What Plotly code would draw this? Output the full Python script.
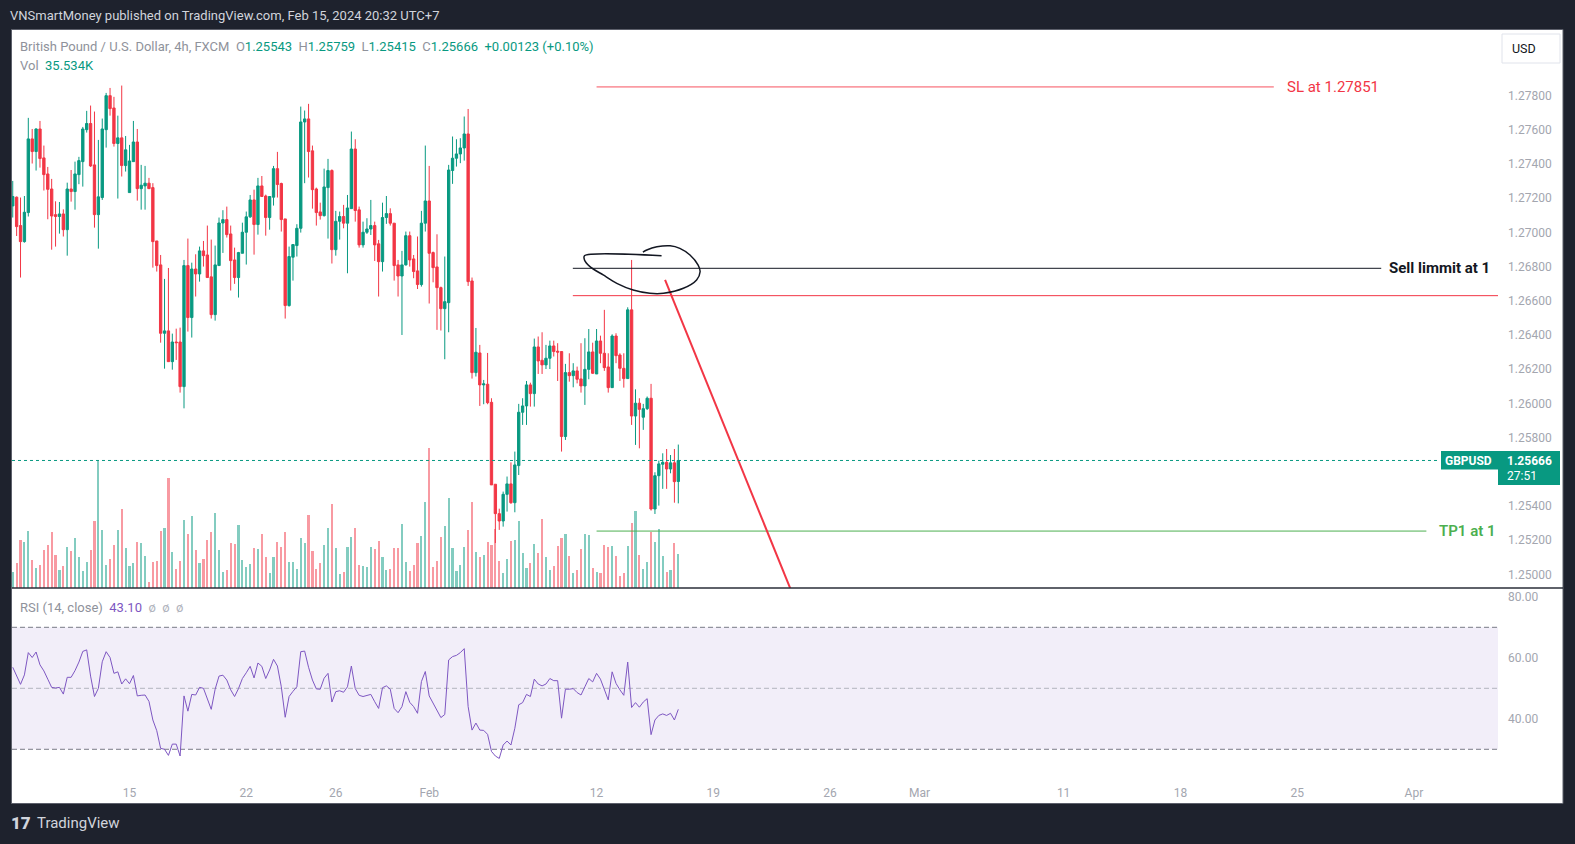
import plotly.graph_objects as go

W, H = 1575, 844
FONT = "Roboto, 'Noto Sans', sans-serif"

# ---------------- data (GBPUSD 4h, FXCM) ----------------
open_ = [1.27155, 1.27206, 1.27040, 1.26946, 1.27116, 1.27547, 1.27473, 1.27605, 1.27436, 1.27342,
         1.27254, 1.27104, 1.27093, 1.27108, 1.27016, 1.27254, 1.27239, 1.27338, 1.27414, 1.27601,
         1.27637, 1.27395, 1.27104, 1.27204, 1.27601, 1.27800, 1.27728, 1.27520, 1.27553, 1.27391,
         1.27233, 1.27414, 1.27529, 1.27256, 1.27272, 1.27288, 1.27262, 1.26950, 1.26810, 1.26410,
         1.26424, 1.26244, 1.26359, 1.26359, 1.26098, 1.26806, 1.26502, 1.26786, 1.26757, 1.26892,
         1.26868, 1.26740, 1.26519, 1.26806, 1.27055, 1.27075, 1.26991, 1.26839, 1.26736, 1.26878,
         1.27001, 1.27091, 1.27190, 1.27046, 1.27272, 1.27213, 1.27087, 1.27206, 1.27373, 1.27286,
         1.27079, 1.26572, 1.26855, 1.26923, 1.27024, 1.27646, 1.27664, 1.27477, 1.27254, 1.27120,
         1.27098, 1.27262, 1.27362, 1.26899, 1.27065, 1.27093, 1.27054, 1.27139, 1.27488, 1.27132,
         1.26927, 1.27001, 1.27020, 1.27040, 1.26933, 1.26829, 1.27087, 1.27110, 1.27054, 1.26810,
         1.26745, 1.26810, 1.26981, 1.26845, 1.26775, 1.26695, 1.27054, 1.27184, 1.26882, 1.26798,
         1.26677, 1.26554, 1.26589, 1.27362, 1.27434, 1.27459, 1.27494, 1.27576, 1.26716, 1.26180,
         1.26295, 1.26108, 1.26112, 1.26006, 1.25527, 1.25355, 1.25312, 1.25468, 1.25529, 1.25419,
         1.25636, 1.25948, 1.25985, 1.26108, 1.26057, 1.26330, 1.26252, 1.26225, 1.26264, 1.26336,
         1.26305, 1.26303, 1.25806, 1.26180, 1.26162, 1.26190, 1.26143, 1.26102, 1.26199, 1.26301,
         1.26172, 1.26365, 1.26293, 1.26213, 1.26092, 1.26394, 1.26283, 1.26205, 1.26145, 1.26547,
         1.25926, 1.26001, 1.25919, 1.25969, 1.26030, 1.25382, 1.25577, 1.25644, 1.25655, 1.25616,
         1.25652, 1.25543]

high = [1.27301, 1.27210, 1.27204, 1.27213, 1.27670, 1.27605, 1.27609, 1.27652, 1.27508, 1.27383,
        1.27313, 1.27182, 1.27178, 1.27135, 1.27291, 1.27365, 1.27414, 1.27442, 1.27617, 1.27711,
        1.27742, 1.27707, 1.27541, 1.27666, 1.27816, 1.27845, 1.27793, 1.27683, 1.27859, 1.27564,
        1.27512, 1.27652, 1.27605, 1.27395, 1.27389, 1.27319, 1.27288, 1.26950, 1.26868, 1.26728,
        1.26792, 1.26408, 1.26437, 1.26443, 1.26839, 1.26964, 1.26823, 1.26872, 1.26917, 1.26950,
        1.27040, 1.26958, 1.26923, 1.27087, 1.27130, 1.27151, 1.27040, 1.26911, 1.26886, 1.27057,
        1.27122, 1.27219, 1.27250, 1.27319, 1.27330, 1.27221, 1.27213, 1.27389, 1.27471, 1.27291,
        1.27079, 1.26917, 1.26929, 1.27048, 1.27736, 1.27713, 1.27752, 1.27508, 1.27262, 1.27174,
        1.27373, 1.27430, 1.27369, 1.27126, 1.27122, 1.27161, 1.27219, 1.27590, 1.27545, 1.27151,
        1.27063, 1.27083, 1.27190, 1.27063, 1.26956, 1.27174, 1.27213, 1.27141, 1.27054, 1.26839,
        1.26892, 1.27005, 1.27005, 1.26868, 1.26976, 1.27126, 1.27508, 1.27389, 1.26888, 1.26989,
        1.26683, 1.26859, 1.27395, 1.27561, 1.27545, 1.27551, 1.27678, 1.27722, 1.26736, 1.26441,
        1.26342, 1.26137, 1.26295, 1.26030, 1.25527, 1.25384, 1.25484, 1.25572, 1.25655, 1.25718,
        1.25997, 1.26030, 1.26131, 1.26121, 1.26379, 1.26391, 1.26416, 1.26342, 1.26367, 1.26367,
        1.26352, 1.26305, 1.26231, 1.26293, 1.26235, 1.26215, 1.26352, 1.26381, 1.26435, 1.26355,
        1.26435, 1.26396, 1.26547, 1.26293, 1.26404, 1.26410, 1.26293, 1.26293, 1.26562, 1.26839,
        1.26082, 1.26030, 1.25997, 1.26040, 1.26114, 1.25597, 1.25665, 1.25708, 1.25733, 1.25698,
        1.25733, 1.25759]

low = [1.27087, 1.26979, 1.26736, 1.26940, 1.27093, 1.27403, 1.27362, 1.27379, 1.27245, 1.27077,
       1.26899, 1.26917, 1.26993, 1.26976, 1.26864, 1.27180, 1.27133, 1.27282, 1.27268, 1.27584,
       1.27383, 1.27028, 1.26905, 1.27190, 1.27496, 1.27683, 1.27502, 1.27198, 1.27327, 1.27356,
       1.27233, 1.27414, 1.27186, 1.27133, 1.27133, 1.27256, 1.26794, 1.26771, 1.26355, 1.26203,
       1.26244, 1.26197, 1.26254, 1.26063, 1.25971, 1.26420, 1.26385, 1.26625, 1.26712, 1.26800,
       1.26736, 1.26496, 1.26484, 1.26806, 1.26880, 1.26970, 1.26660, 1.26699, 1.26619, 1.26878,
       1.26812, 1.27085, 1.26870, 1.26987, 1.27210, 1.26981, 1.27016, 1.27157, 1.27204, 1.27005,
       1.26496, 1.26566, 1.26718, 1.26859, 1.26999, 1.27288, 1.27321, 1.27139, 1.27040, 1.27075,
       1.27093, 1.26964, 1.26818, 1.26864, 1.26958, 1.27024, 1.26761, 1.27139, 1.27063, 1.26911,
       1.26911, 1.26991, 1.26985, 1.26833, 1.26625, 1.26771, 1.27050, 1.27040, 1.26718, 1.26625,
       1.26400, 1.26806, 1.26800, 1.26732, 1.26669, 1.26683, 1.27005, 1.26584, 1.26708, 1.26430,
       1.26426, 1.26258, 1.26416, 1.27284, 1.27385, 1.27405, 1.27420, 1.26687, 1.26145, 1.26157,
       1.25985, 1.25995, 1.25995, 1.25523, 1.25183, 1.25260, 1.25279, 1.25367, 1.25412, 1.25363,
       1.25581, 1.25874, 1.25874, 1.25981, 1.25981, 1.26172, 1.26172, 1.26201, 1.26201, 1.26274,
       1.26131, 1.25718, 1.25786, 1.26127, 1.26094, 1.26117, 1.26063, 1.25991, 1.26141, 1.26172,
       1.26172, 1.26235, 1.26190, 1.26063, 1.26092, 1.26235, 1.26131, 1.26092, 1.26145, 1.25874,
       1.25757, 1.25737, 1.25845, 1.25961, 1.25373, 1.25353, 1.25402, 1.25500, 1.25500, 1.25591,
       1.25419, 1.25415]

close = [1.27210, 1.27034, 1.26946, 1.27118, 1.27547, 1.27473, 1.27605, 1.27432, 1.27338, 1.27252,
         1.27096, 1.27093, 1.27108, 1.27016, 1.27254, 1.27239, 1.27342, 1.27420, 1.27605, 1.27637,
         1.27389, 1.27104, 1.27208, 1.27605, 1.27800, 1.27724, 1.27520, 1.27553, 1.27391, 1.27483,
         1.27418, 1.27529, 1.27256, 1.27276, 1.27288, 1.27256, 1.26946, 1.26806, 1.26410, 1.26424,
         1.26244, 1.26359, 1.26355, 1.26098, 1.26806, 1.26502, 1.26786, 1.26757, 1.26892, 1.26864,
         1.26736, 1.26519, 1.26810, 1.27055, 1.27075, 1.26987, 1.26835, 1.26736, 1.26882, 1.27001,
         1.27091, 1.27190, 1.27046, 1.27272, 1.27210, 1.27087, 1.27210, 1.27373, 1.27280, 1.27075,
         1.26572, 1.26859, 1.26929, 1.27024, 1.27646, 1.27664, 1.27473, 1.27250, 1.27116, 1.27098,
         1.27266, 1.27362, 1.26899, 1.27065, 1.27093, 1.27054, 1.27143, 1.27488, 1.27128, 1.26927,
         1.27001, 1.27020, 1.27040, 1.26927, 1.26829, 1.27087, 1.27110, 1.27054, 1.26806, 1.26745,
         1.26810, 1.26981, 1.26839, 1.26771, 1.26695, 1.27054, 1.27184, 1.26878, 1.26794, 1.26677,
         1.26554, 1.26595, 1.27365, 1.27434, 1.27459, 1.27494, 1.27576, 1.26712, 1.26180, 1.26299,
         1.26108, 1.26114, 1.26004, 1.25523, 1.25355, 1.25312, 1.25468, 1.25529, 1.25419, 1.25640,
         1.25948, 1.25985, 1.26108, 1.26057, 1.26330, 1.26248, 1.26225, 1.26264, 1.26336, 1.26303,
         1.26300, 1.25806, 1.26180, 1.26162, 1.26190, 1.26141, 1.26102, 1.26199, 1.26301, 1.26176,
         1.26365, 1.26293, 1.26209, 1.26092, 1.26394, 1.26279, 1.26205, 1.26145, 1.26547, 1.25926,
         1.26001, 1.25965, 1.25969, 1.26030, 1.25382, 1.25577, 1.25646, 1.25655, 1.25616, 1.25652,
         1.25542, 1.25666]

volume_k = [16.7, 26.1, 50.2, 48.1, 59.6, 29.3, 20.9, 24.0, 39.7, 44.9,
            58.5, 34.5, 18.8, 23.0, 42.9, 38.7, 52.3, 32.4, 17.8, 27.2,
            39.7, 70.0, 134.1, 60.6, 24.0, 30.3, 44.9, 60.6, 82.6, 41.8,
            23.0, 26.1, 48.1, 47.0, 33.4, 6.3, 27.2, 28.2, 59.6, 62.7,
            115.0, 37.6, 19.9, 28.2, 71.1, 56.4, 75.3, 39.7, 26.1, 30.3,
            50.2, 58.5, 78.4, 39.7, 16.7, 18.8, 47.0, 46.0, 65.8, 29.3,
            21.9, 25.1, 41.8, 40.8, 56.4, 32.4, 15.7, 32.4, 48.1, 42.9,
            58.5, 27.2, 27.2, 19.9, 52.3, 47.0, 76.3, 38.7, 19.9, 26.1,
            44.9, 62.7, 87.8, 41.8, 14.6, 16.7, 42.9, 53.3, 62.7, 24.0,
            23.0, 21.9, 42.9, 40.8, 49.1, 32.4, 18.8, 19.9, 41.8, 41.8,
            66.9, 27.2, 17.8, 24.0, 47.0, 54.4, 89.9, 146.3, 21.9, 28.2,
            53.3, 64.8, 94.1, 41.8, 17.8, 24.0, 42.9, 60.6, 89.9, 37.6,
            32.4, 34.5, 48.1, 44.9, 61.7, 28.2, 15.7, 30.3, 49.1, 50.2,
            70.0, 36.6, 20.9, 26.1, 46.0, 36.6, 72.1, 32.4, 18.8, 23.0,
            43.9, 52.3, 56.4, 33.4, 15.7, 18.8, 40.8, 56.4, 55.4, 20.9,
            16.7, 15.7, 44.9, 42.9, 43.9, 33.4, 12.5, 15.7, 43.9, 67.9,
            80.5, 34.5, 19.9, 27.2, 58.5, 48.1, 61.7, 33.4, 16.7, 18.8,
            47.0, 35.534]

rsi = [56.9, 54.0, 51.3, 54.4, 61.7, 60.1, 61.9, 57.7, 55.7, 53.0,
       50.3, 50.1, 50.3, 48.1, 53.6, 53.6, 55.8, 58.6, 62.1, 62.6,
       54.0, 47.3, 50.0, 58.7, 62.0, 60.1, 54.9, 55.4, 51.4, 53.1,
       51.5, 54.2, 47.5, 47.7, 47.8, 45.7, 39.6, 36.1, 30.3, 30.0,
       28.0, 31.7, 31.7, 27.8, 47.5, 42.5, 48.0, 47.8, 50.3, 50.0,
       46.7, 43.1, 49.7, 54.0, 54.3, 52.7, 49.5, 47.3, 49.9, 53.2,
       55.1, 57.2, 53.4, 58.3, 57.2, 53.2, 56.0, 59.5, 57.3, 50.5,
       40.5, 47.3, 49.0, 50.5, 62.0, 62.2, 56.9, 52.7, 49.8, 49.7,
       53.3, 54.9, 45.5, 48.9, 49.2, 48.7, 50.5, 57.3, 49.9, 47.7,
       47.3, 47.7, 48.0, 45.6, 43.4, 50.2, 50.8, 49.7, 43.4, 42.0,
       44.0, 48.9, 45.4, 44.0, 41.8, 52.2, 55.5, 47.5, 45.1, 42.9,
       40.4, 41.4, 59.3, 60.4, 60.8, 61.7, 63.0, 44.0, 36.3, 38.6,
       36.3, 36.2, 34.9, 29.3, 27.8, 27.0, 31.4, 32.7, 31.4, 36.9,
       44.6, 45.3, 48.0, 47.3, 53.0, 51.4, 50.8, 51.4, 53.2, 52.5,
       52.5, 40.2, 49.7, 49.7, 49.9, 48.6, 47.8, 50.5, 53.2, 52.1,
       54.9, 53.0, 49.7, 46.2, 55.4, 51.6, 49.5, 47.7, 58.6, 43.7,
       45.3, 43.8, 45.5, 46.6, 34.8, 39.6, 41.1, 41.6, 41.1, 41.8,
       39.6, 43.10]

# time-axis labels (bar index of the first 4h bar of each labelled day)
tick_index = [30, 60, 83, 107, 150, 180, 210, 233, 270, 300, 330, 360]
tick_label = ["15", "22", "26", "Feb", "12", "19", "26", "Mar", "11", "18", "25", "Apr"]

price_ticks = [1.25000, 1.25200, 1.25400, 1.25800, 1.26000, 1.26200, 1.26400,
               1.26600, 1.26800, 1.27000, 1.27200, 1.27400, 1.27600, 1.27800]
rsi_ticks = [40, 60, 80]

# drawing levels
sl_price = 1.27851
sell_limit_price = 1.26790
zone_price = 1.26630
tp1_price = 1.25253
countdown = "27:51"

# drawing anchors (bar index, price)
sl_span = [150.0, 324.0]
sell_span = [143.9, 351.6]
zone_span = [143.9, 381.6]
tp_span = [150.0, 363.2]
trend_idx = [167.6, 205.0]
trend_price = [1.26722, 1.24624]
ellipse_idx = [166.7, 146.9, 146.9, 148.3, 151.7, 155.2, 159.4, 163.7, 167.2, 172.3,
               175.7, 176.6, 176.1, 174.0, 171.4, 168.9, 165.5, 162.9, 161.9]
ellipse_price = [1.26864, 1.26864, 1.26839, 1.26800, 1.26751, 1.26702, 1.26663, 1.26644,
                 1.26644, 1.26673, 1.26722, 1.26770, 1.26809, 1.26868, 1.26907, 1.26922,
                 1.26916, 1.26897, 1.26884]

# ---------------- styling ----------------
UP = "#089981"
DOWN = "#f23645"
VOL_UP = "rgba(8,153,129,0.5)"
VOL_DOWN = "rgba(242,54,69,0.5)"
AXIS_TXT = "#a3a6af"
LEG_GRAY = "#8f929b"

n = min(len(open_), len(high), len(low), len(close), len(volume_k), len(rsi))
bar_index = list(range(n))

X_RANGE = [-0.19, 381.6]
P_RANGE = [1.24920, 1.28184]
R_RANGE = [21.57, 82.56]
V_RANGE = [0, 583.2]


def px(x):
    return x / W


def py(y):
    return 1 - y / H


price_dom = [py(588), py(30)]
rsi_dom = [py(775), py(589)]

vol_colors = [VOL_UP if close[i] >= open_[i] else VOL_DOWN for i in range(n)]

fig = go.Figure()

fig.add_trace(go.Bar(x=bar_index, y=volume_k[:n], marker=dict(color=vol_colors, line_width=0),
                     width=0.55, xaxis="x", yaxis="y", hoverinfo="skip", showlegend=False))

fig.add_trace(go.Candlestick(
    x=bar_index, open=open_[:n], high=high[:n], low=low[:n], close=close[:n],
    increasing=dict(line=dict(color=UP, width=1), fillcolor=UP),
    decreasing=dict(line=dict(color=DOWN, width=1), fillcolor=DOWN),
    whiskerwidth=0, xaxis="x", yaxis="y3", hoverinfo="skip", showlegend=False))

# drawings
def hline(span, price, color, width):
    fig.add_trace(go.Scatter(x=span, y=[price, price], mode="lines",
                             line=dict(color=color, width=width), xaxis="x", yaxis="y3",
                             hoverinfo="skip", showlegend=False))


hline(sl_span, sl_price, "#f7525f", 1)
hline(sell_span, sell_limit_price, "#131722", 1)
hline(zone_span, zone_price, "#f23645", 1)
hline(tp_span, tp1_price, "#4caf50", 1)

fig.add_trace(go.Scatter(x=trend_idx, y=trend_price, mode="lines",
                         line=dict(color="#f23645", width=2), xaxis="x", yaxis="y3",
                         hoverinfo="skip", showlegend=False))
fig.add_trace(go.Scatter(x=ellipse_idx, y=ellipse_price, mode="lines",
                         line=dict(color="#131722", width=1.5, shape="spline", smoothing=0.8),
                         xaxis="x", yaxis="y3", hoverinfo="skip", showlegend=False))

fig.add_trace(go.Scatter(x=bar_index, y=rsi[:n], mode="lines",
                         line=dict(color="#7e57c2", width=1), xaxis="x", yaxis="y2",
                         hoverinfo="skip", showlegend=False))

last_close = close[n - 1]
last_open = open_[n - 1]
chg = last_close - last_open
pct = chg / last_open * 100

shapes = [
    dict(type="rect", xref="paper", yref="paper", x0=px(11.5), x1=px(1563), y0=py(803.5), y1=py(29.5),
         fillcolor="white", line=dict(color="#5d606b", width=1), layer="below"),
    dict(type="rect", xref="paper", yref="y2", x0=px(12), x1=px(1498), y0=30, y1=70,
         fillcolor="rgba(126,87,194,0.1)", line_width=0, layer="below"),
    dict(type="line", xref="paper", yref="y2", x0=px(12), x1=px(1498), y0=70, y1=70,
         line=dict(color="#787b86", width=1, dash="5px,3px"), layer="below"),
    dict(type="line", xref="paper", yref="y2", x0=px(12), x1=px(1498), y0=50, y1=50,
         line=dict(color="#b2b5be", width=1, dash="5px,3px"), layer="below"),
    dict(type="line", xref="paper", yref="y2", x0=px(12), x1=px(1498), y0=30, y1=30,
         line=dict(color="#787b86", width=1, dash="5px,3px"), layer="below"),
    dict(type="line", xref="paper", yref="paper", x0=px(12), x1=px(1563), y0=py(588), y1=py(588),
         line=dict(color="#2a2e39", width=1.5)),
    dict(type="line", xref="paper", yref="y3", x0=px(12), x1=px(1440), y0=last_close, y1=last_close,
         line=dict(color=UP, width=1, dash="dot")),
    dict(type="rect", xref="paper", yref="paper", x0=px(1441), x1=px(1498), y0=py(469.5), y1=py(451),
         fillcolor=UP, line_width=0),
    dict(type="rect", xref="paper", yref="paper", x0=px(1498), x1=px(1560), y0=py(485), y1=py(451),
         fillcolor=UP, line_width=0),
    dict(type="rect", xref="paper", yref="paper", x0=px(1502), x1=px(1560), y0=py(63), y1=py(34),
         fillcolor="white", line=dict(color="#e0e3eb", width=1)),
]

def ann_paper(x, y, text, size=13, color="#131722", anchor="left", weight="normal"):
    return dict(xref="paper", yref="paper", x=px(x), y=py(y), xanchor=anchor, yanchor="middle",
                text=text, showarrow=False,
                font=dict(family=FONT, size=size, color=color, weight=weight))


def g(t):
    return f"<span style='color:{LEG_GRAY}'>{t}</span>"


def v(t, c=UP):
    return f"<span style='color:{c}'>{t}</span>"


sp = "\u00a0\u00a0"
legend_line = (g("British Pound / U.S. Dollar, 4h, FXCM") + sp
               + g("O") + v(f"{last_open:.5f}") + sp
               + g("H") + v(f"{high[n-1]:.5f}") + sp
               + g("L") + v(f"{low[n-1]:.5f}") + sp
               + g("C") + v(f"{last_close:.5f}") + sp
               + v(f"{chg:+.5f} ({pct:+.2f}%)"))
vol_line = g("Vol") + sp + v(f"{volume_k[n-1]:.3f}K")
rsi_line = (g("RSI (14, close)") + sp + v(f"{rsi[n-1]:.2f}", "#7e57c2") + sp
            + "<span style='color:#b2b5be'>ø\u00a0\u00a0ø\u00a0\u00a0ø</span>")

annotations = [
    ann_paper(8, 15, "VNSmartMoney published on TradingView.com, Feb 15, 2024 20:32 UTC+7",
              size=13, color="#d1d4dc"),
    ann_paper(18, 46.5, legend_line, size=13),
    ann_paper(18, 65.5, vol_line, size=13),
    ann_paper(18, 607, rsi_line, size=13),
    ann_paper(1510, 48.5, "USD", size=12.5, color="#131722"),
    ann_paper(1468.5, 460.5, "GBPUSD", size=12, color="white", anchor="center", weight="bold"),
    ann_paper(1505, 460.5, f"{last_close:.5f}", size=12, color="white", weight="bold"),
    ann_paper(1505, 476.5, countdown, size=12, color="white"),
    ann_paper(9, 823, "17", size=17, color="#d1d4dc", weight=900),
    ann_paper(35, 823, "TradingView", size=15, color="#d1d4dc"),
    dict(xref="x", yref="y3", x=326.8, y=sl_price, xanchor="left", yanchor="middle",
         text=f"SL at {sl_price:.5f}", showarrow=False,
         font=dict(family=FONT, size=15, color="#f23645")),
    dict(xref="x", yref="y3", x=353.0, y=sell_limit_price, xanchor="left", yanchor="middle",
         text="Sell limmit at 1", showarrow=False,
         font=dict(family=FONT, size=15, color="#131722", weight="bold")),
    dict(xref="x", yref="y3", x=366.0, y=tp1_price, xanchor="left", yanchor="middle",
         text="TP1 at 1", showarrow=False,
         font=dict(family=FONT, size=15, color="#4caf50", weight=600)),
]

fig.update_layout(
    width=W, height=H, autosize=False,
    margin=dict(l=0, r=0, t=0, b=0, pad=0),
    paper_bgcolor="#1e222d", plot_bgcolor="rgba(0,0,0,0)",
    showlegend=False, hovermode=False, dragmode=False,
    boxgap=0.2, boxgroupgap=0.25, bargap=0,
    font=dict(family=FONT, size=12, color=AXIS_TXT),
    xaxis=dict(domain=[px(12), px(1498)], range=X_RANGE, anchor="y2",
               tickmode="array", tickvals=tick_index, ticktext=tick_label,
               showgrid=False, zeroline=False, showline=False, ticks="",
               ticklabelstandoff=9, tickfont=dict(family=FONT, size=12, color=AXIS_TXT),
               rangeslider=dict(visible=False), fixedrange=True),
    yaxis=dict(domain=price_dom, range=V_RANGE, anchor="x", visible=False,
               showgrid=False, zeroline=False, fixedrange=True),
    yaxis3=dict(range=P_RANGE, overlaying="y", anchor="x", side="right",
                tickmode="array", tickvals=price_ticks, ticktext=[f"{t:.5f}" for t in price_ticks],
                showgrid=False, zeroline=False, showline=False, ticks="",
                ticklabelstandoff=9, tickfont=dict(family=FONT, size=12, color=AXIS_TXT),
                fixedrange=True),
    yaxis2=dict(domain=rsi_dom, range=R_RANGE, anchor="x", side="right",
                tickmode="array", tickvals=rsi_ticks, ticktext=[f"{t:.2f}" for t in rsi_ticks],
                showgrid=False, zeroline=False, showline=False, ticks="",
                ticklabelstandoff=9, tickfont=dict(family=FONT, size=12, color=AXIS_TXT),
                fixedrange=True),
    shapes=shapes,
    annotations=annotations,
)

fig.write_html("out.html", config={"displayModeBar": False, "staticPlot": True},
               post_script="document.body.style.margin='0';document.body.style.overflow='hidden';")
